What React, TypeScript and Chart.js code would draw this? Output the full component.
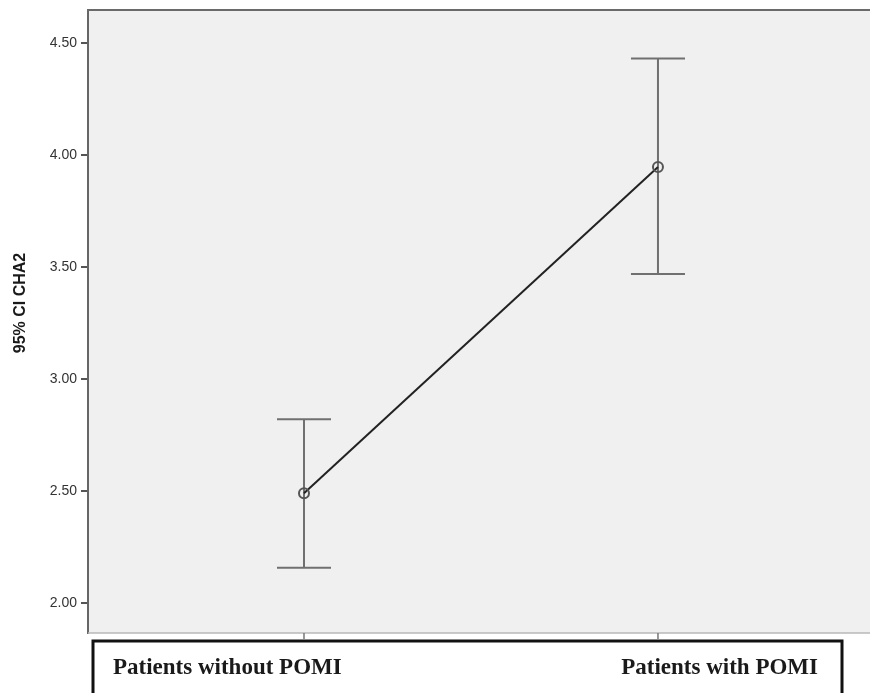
import React, { useEffect, useRef } from "react";
import { Chart, registerables } from "chart.js";

Chart.register(...registerables);

const categories = ["Patients without POMI", "Patients with POMI"];
const xPositions = [1, 2];
const means = [2.49, 3.946];
const upperCI = [2.82, 4.43];
const lowerCI = [2.157, 3.469];
const yTicks = [2.0, 2.5, 3.0, 3.5, 4.0, 4.5];
const yTitle = "95% CI CHA2";

const bgPlugin = {
  id: "bgPlugin",
  beforeDraw(chart: any) {
    const { ctx, chartArea } = chart;
    ctx.save();
    ctx.fillStyle = "#f0f0f0";
    ctx.fillRect(chartArea.left, chartArea.top, chart.width - chartArea.left, chartArea.bottom - chartArea.top);
    ctx.restore();
  },
  afterDraw(chart: any) {
    const { ctx, chartArea, scales } = chart;
    ctx.save();
    // top border
    ctx.strokeStyle = "#6a6a6a";
    ctx.lineWidth = 2;
    ctx.beginPath();
    ctx.moveTo(chartArea.left - 1, chartArea.top);
    ctx.lineTo(chart.width, chartArea.top);
    ctx.stroke();
    // bottom border
    ctx.strokeStyle = "#b8b8b8";
    ctx.lineWidth = 1.5;
    ctx.beginPath();
    ctx.moveTo(chartArea.left, chartArea.bottom);
    ctx.lineTo(chart.width, chartArea.bottom);
    ctx.stroke();
    // x tick marks
    ctx.strokeStyle = "#777";
    ctx.lineWidth = 1.5;
    xPositions.forEach((xv) => {
      const px = scales.x.getPixelForValue(xv);
      ctx.beginPath();
      ctx.moveTo(px, chartArea.bottom);
      ctx.lineTo(px, chartArea.bottom + 6);
      ctx.stroke();
    });
    // label box
    const boxLeft = chartArea.left + 5;
    const boxTop = chartArea.bottom + 8;
    const boxRight = 842;
    ctx.strokeStyle = "#111";
    ctx.lineWidth = 3;
    ctx.beginPath();
    ctx.moveTo(boxLeft, chart.height + 5);
    ctx.lineTo(boxLeft, boxTop);
    ctx.lineTo(boxRight, boxTop);
    ctx.lineTo(boxRight, chart.height + 5);
    ctx.stroke();
    ctx.fillStyle = "#1a1a1a";
    ctx.font = "bold 23px 'Liberation Serif', 'Times New Roman', serif";
    ctx.textBaseline = "middle";
    ctx.textAlign = "left";
    ctx.fillText(categories[0], 113, boxTop + 27);
    ctx.textAlign = "right";
    ctx.fillText(categories[1], 818, boxTop + 27);
    // y axis title
    ctx.save();
    ctx.translate(21, 303);
    ctx.rotate(-Math.PI / 2);
    ctx.font = "bold 16px Arial, 'Liberation Sans', sans-serif";
    ctx.fillStyle = "#1a1a1a";
    ctx.textAlign = "center";
    ctx.textBaseline = "middle";
    ctx.fillText(yTitle, 0, 0);
    ctx.restore();
    ctx.restore();
  },
};

const errorBarPlugin = {
  id: "errorBarPlugin",
  beforeDatasetsDraw(chart: any) {
    const { ctx, scales } = chart;
    ctx.save();
    ctx.strokeStyle = "#707070";
    ctx.lineWidth = 2;
    xPositions.forEach((xv, i) => {
      const px = scales.x.getPixelForValue(xv);
      const top = scales.y.getPixelForValue(upperCI[i]);
      const bot = scales.y.getPixelForValue(lowerCI[i]);
      ctx.beginPath();
      ctx.moveTo(px, top);
      ctx.lineTo(px, bot);
      ctx.moveTo(px - 27, top);
      ctx.lineTo(px + 27, top);
      ctx.moveTo(px - 27, bot);
      ctx.lineTo(px + 27, bot);
      ctx.stroke();
    });
    ctx.restore();
  },
  afterDatasetsDraw(chart: any) {
    const { ctx, scales } = chart;
    ctx.save();
    ctx.strokeStyle = "#555";
    ctx.lineWidth = 2;
    xPositions.forEach((xv, i) => {
      const px = scales.x.getPixelForValue(xv);
      const py = scales.y.getPixelForValue(means[i]);
      ctx.beginPath();
      ctx.arc(px, py, 5, 0, Math.PI * 2);
      ctx.stroke();
    });
    ctx.restore();
  },
};

export default function App() {
  const ref = useRef<HTMLCanvasElement>(null);
  useEffect(() => {
    document.body.style.margin = "0";
    const chart = new Chart(ref.current!, {
      type: "line",
      data: {
        datasets: [
          {
            data: xPositions.map((x, i) => ({ x, y: means[i] })),
            borderColor: "#222",
            borderWidth: 2,
            pointRadius: 0,
            pointHoverRadius: 0,
          },
        ],
      },
      options: {
        animation: false,
        responsive: false,
        maintainAspectRatio: false,
        layout: { autoPadding: false, padding: { top: 10, right: 0, bottom: 60, left: 0 } },
        plugins: { legend: { display: false }, tooltip: { enabled: false } },
        scales: {
          x: {
            type: "linear",
            min: 0.3898,
            max: 2.599,
            display: false,
          },
          y: {
            min: 1.866,
            max: 4.647,
            afterFit(scale: any) {
              scale.width = 88;
              scale.paddingTop = 0;
              scale.paddingBottom = 0;
            },
            afterBuildTicks(scale: any) {
              scale.ticks = yTicks.map((v) => ({ value: v }));
            },
            ticks: {
              color: "#333",
              font: { family: "Arial, 'Liberation Sans', sans-serif", size: 14 },
              padding: 4,
              callback: (v: any) => Number(v).toFixed(2),
            },
            grid: {
              drawOnChartArea: false,
              drawTicks: true,
              tickLength: 7,
              color: "#555",
              lineWidth: 2,
            },
            border: { display: true, color: "#666", width: 2 },
          },
        },
      },
      plugins: [bgPlugin, errorBarPlugin],
    });
    return () => chart.destroy();
  }, []);
  return (
    <div style={{ width: 870, height: 693, position: "relative", background: "#fff" }}>
      <canvas ref={ref} width={870} height={693} />
    </div>
  );
}
